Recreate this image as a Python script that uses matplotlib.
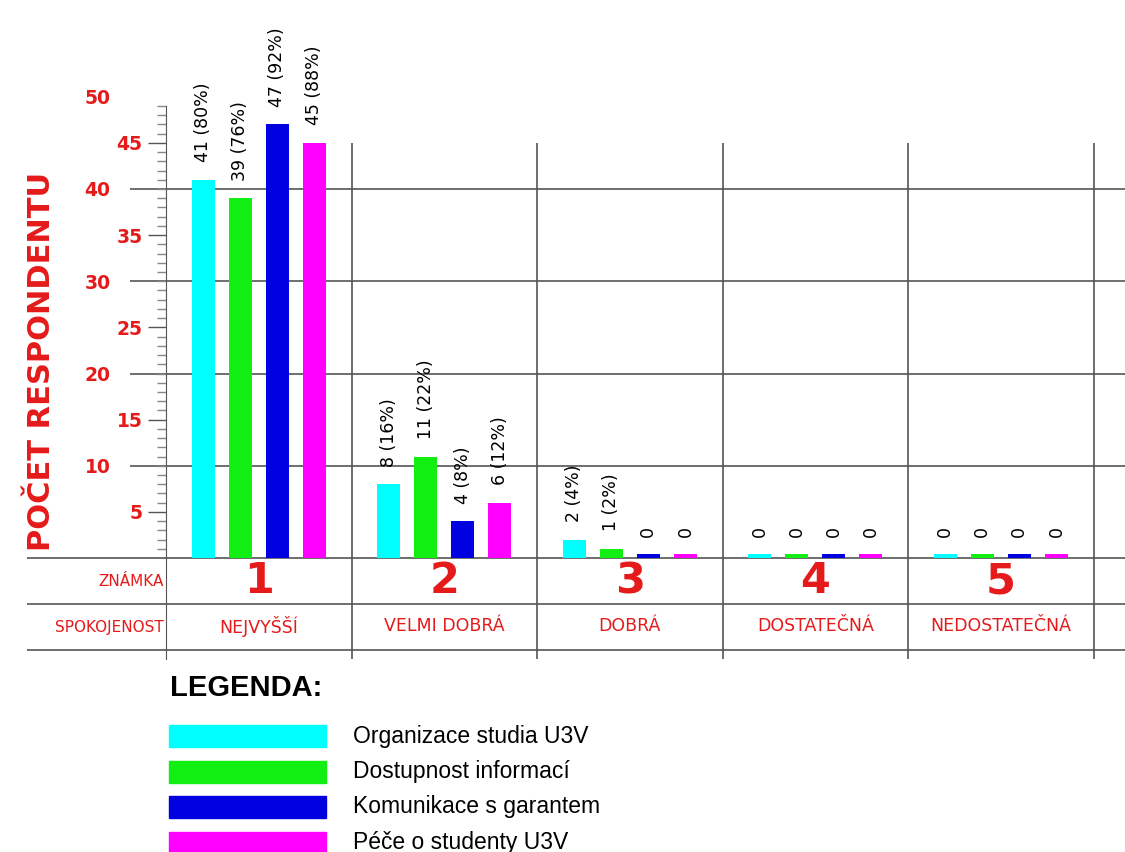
import numpy as np
import matplotlib.pyplot as plt
from matplotlib.patches import Rectangle

# data
grades = ['1', '2', '3', '4', '5']
satisfaction = ['NEJVYŠŠÍ', 'VELMI DOBRÁ', 'DOBRÁ', 'DOSTATEČNÁ', 'NEDOSTATEČNÁ']
series_names = ['Organizace studia U3V', 'Dostupnost informací',
                'Komunikace s garantem', 'Péče o studenty U3V']
organizace = [41, 8, 2, 0, 0]
dostupnost = [39, 11, 1, 0, 0]
komunikace = [47, 4, 0, 0, 0]
pece = [45, 6, 0, 0, 0]
organizace_pct = [80, 16, 4, 0, 0]
dostupnost_pct = [76, 22, 2, 0, 0]
komunikace_pct = [92, 8, 0, 0, 0]
pece_pct = [88, 12, 0, 0, 0]
ytick_fives = [5, 15, 25, 35, 45]
ytick_tens = [10, 20, 30, 40, 50]

values = [organizace, dostupnost, komunikace, pece]
percents = [organizace_pct, dostupnost_pct, komunikace_pct, pece_pct]
colors = ['#00ffff', '#11ee11', '#0000e0', '#ff00ff']
red = '#e51a1a'
grid = '#555555'

W, H = 1125, 852
fig = plt.figure(figsize=(W / 100, H / 100), dpi=100)

# axes placed in pixels: zero line at y=558, 9.225 px per respondent
px_unit = 9.225
ymin, ymax = -10.9, 50
top_px = 558 - ymax * px_unit
bot_px = 558 - ymin * px_unit
cat_px = 185.5
ax = fig.add_axes([166 / W, 1 - bot_px / H, (W - 166) / W, (bot_px - top_px) / H])
xmin = -0.5
xmax = xmin + (W - 166) / cat_px
ax.set_xlim(xmin, xmax)
ax.set_ylim(ymin, ymax)

for s in ['top', 'right', 'bottom']:
    ax.spines[s].set_visible(False)
ax.spines['left'].set_bounds(ymin, 49)
ax.spines['left'].set_color(grid)
ax.set_xticks([])

ax.set_yticks(ytick_fives)
ax.set_yticks([v for v in range(1, 50) if v not in ytick_fives], minor=True)
ax.tick_params(axis='y', which='major', length=13, width=1, color=grid, pad=4,
               labelcolor=red, labelsize=13.5)
ax.tick_params(axis='y', which='minor', length=6.5, width=1, color='#888888')
for lab in ax.get_yticklabels():
    lab.set_fontweight('bold')

sec = ax.secondary_yaxis('left')
sec.set_yticks(ytick_tens)
sec.spines['left'].set_visible(False)
sec.tick_params(axis='y', length=0, pad=40, labelcolor=red, labelsize=13.5)
for lab in sec.get_yticklabels():
    lab.set_fontweight('bold')

# grid / table lines
ax.hlines(ytick_tens[:-1], xmin - 36 / cat_px, xmax, color=grid, lw=1.2, clip_on=False, zorder=1)
ax.hlines([0, -5, -10], xmin - 139 / cat_px, xmax, color=grid, lw=1.2, clip_on=False, zorder=1)
x = np.arange(len(grades))
ax.vlines(x + 0.5, ymin, 45, color=grid, lw=1.2, zorder=1)

# bars
stub = 0.43
offsets = np.array([-1.5, -0.5, 0.5, 1.5]) * 0.2
for vals, pcts, off, col in zip(values, percents, offsets, colors):
    h = np.maximum(vals, stub)
    ax.bar(x + off, h, width=0.124, color=col, zorder=3)
    for xi, hi, v, p in zip(x + off, h, vals, pcts):
        label = f'{v} ({p}%)' if v else '0'
        ax.text(xi, hi + 1.9, label, rotation=90, ha='center', va='bottom',
                fontsize=12.5, color='black', clip_on=False)

# table rows
for xi, g, s in zip(x, grades, satisfaction):
    ax.text(xi, -2.5, g, ha='center', va='center', fontsize=31,
            fontweight='bold', color=red)
    ax.text(xi, -7.4, s, ha='center', va='center', fontsize=12.5, color=red)
ax.text(xmin - 0.01, -2.6, 'ZNÁMKA', ha='right', va='center', fontsize=11, color=red)
ax.text(xmin - 0.01, -7.5, 'SPOKOJENOST', ha='right', va='center', fontsize=11, color=red)

fig.text(42 / W, 1 - 361 / H, 'POČET RESPONDENTU', rotation=90, ha='center',
         va='center', fontsize=22, fontweight='bold', color=red)

# legend
fig.text(170 / W, 1 - 688 / H, 'LEGENDA:', ha='left', va='center', fontsize=21,
         fontweight='bold', family=['Liberation Sans Narrow', 'Liberation Sans'])
for i, (name, col) in enumerate(zip(series_names, colors)):
    y0 = 725 + i * 35.5
    fig.patches.append(Rectangle((169 / W, 1 - (y0 + 22) / H), 157 / W, 22 / H,
                                 transform=fig.transFigure, color=col))
    fig.text(353 / W, 1 - (y0 + 11) / H, name, ha='left', va='center',
             fontsize=16.5, family='Liberation Sans')

fig.savefig('out.png', dpi=100)
